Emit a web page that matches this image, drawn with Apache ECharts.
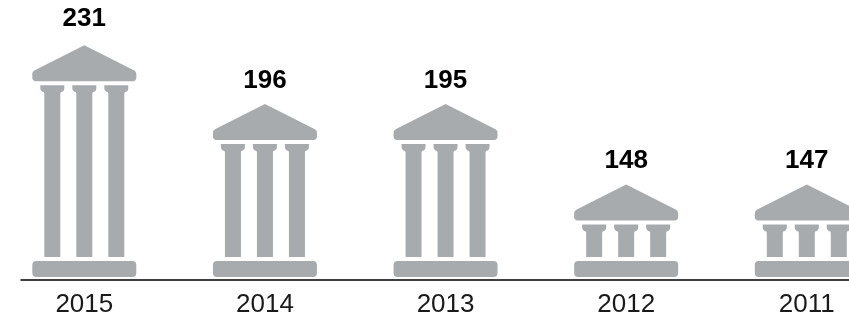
<!DOCTYPE html>
<html>
<head>
<meta charset="utf-8">
<style>html,body{margin:0;padding:0;background:#fff}#c{width:849px;height:320px}</style>
<script src="https://cdn.jsdelivr.net/npm/echarts@6/dist/echarts.min.js"></script>
</head>
<body>
<div id="c"></div>
<script>
const years = ['2015', '2014', '2013', '2012', '2011'];
const totals = [231, 196, 195, 148, 147];
// The picture draws neighbouring totals at one height: the temple height each is drawn to.
const drawnHeights = [231, 196, 196, 148, 148];
const labelRaise = [26, 23, 23, 24, 24];

const GREY = '#a7abad';
const chart = echarts.init(document.getElementById('c'), null, { renderer: 'canvas' });

function mirrored(cx, T, half) {
  const right = half.map(function (p) { return [cx + p[0], T + p[1]]; });
  const left = half.slice().reverse().map(function (p) { return [cx - p[0], T + p[1]]; });
  return right.concat(left);
}

function renderTemple(params, api) {
  const idx = api.value(0);
  const top = api.coord([idx, api.value(1)]);
  const floor = api.coord([idx, 91]);
  const cx = top[0], T = top[1], B = floor[1];
  const style = { fill: GREY };
  const kids = [];
  // roof
  kids.push({ type: 'polygon', shape: { points: mirrored(cx, T, [[0, 0], [49.5, 25], [51, 26.2], [51.8, 27.5], [52, 29], [52, 33], [51.3, 34.8], [49.5, 36]]) }, style });
  // columns
  [-32, 0, 32].forEach(function (off) {
    kids.push({ type: 'polygon', shape: { points: mirrored(cx + off, T, [[12, 40], [12, 43.5], [11.4, 45.2], [10, 46.5], [8.4, 47], [8, 48]]) }, style });
    kids.push({ type: 'rect', shape: { x: cx + off - 8, y: T + 47, width: 16, height: (B - 23) - (T + 47) }, style });
  });
  // plinth
  kids.push({ type: 'rect', shape: { x: cx - 52, y: B - 19, width: 104, height: 16, r: 4 }, style });
  // value
  kids.push({ type: 'text', style: { text: String(totals[idx]), x: cx, y: T - labelRaise[idx], align: 'center', verticalAlign: 'middle', fill: '#000', font: 'bold 26px "Liberation Sans", Arial, sans-serif' } });
  return { type: 'group', children: kids };
}

chart.setOption({
  animation: false,
  grid: [
    { left: 84.3, top: 0, width: 722.5, height: 280 },
    { left: 21, right: 0, top: 0, height: 280 }
  ],
  xAxis: [
    { type: 'category', data: years, gridIndex: 0, boundaryGap: false,
      axisLine: { show: false }, axisTick: { show: false },
      axisLabel: { interval: 0, margin: 12, color: '#1a1a1a', fontSize: 26, fontFamily: '"Liberation Sans", Arial, sans-serif' } },
    { type: 'value', gridIndex: 1, min: 0, max: 1, splitLine: { show: false },
      axisLabel: { show: false }, axisTick: { show: false },
      axisLine: { show: true, lineStyle: { color: '#000', width: 1.5 } } }
  ],
  yAxis: [
    { type: 'value', gridIndex: 0, min: 91, max: 258, show: false },
    { type: 'value', gridIndex: 1, min: 0, max: 1, show: false }
  ],
  series: [{
    type: 'custom', xAxisIndex: 0, yAxisIndex: 0, clip: false,
    data: years.map(function (y, i) { return [i, drawnHeights[i]]; }),
    encode: { x: 0, y: 1 },
    renderItem: renderTemple
  }]
});
</script>
</body>
</html>
